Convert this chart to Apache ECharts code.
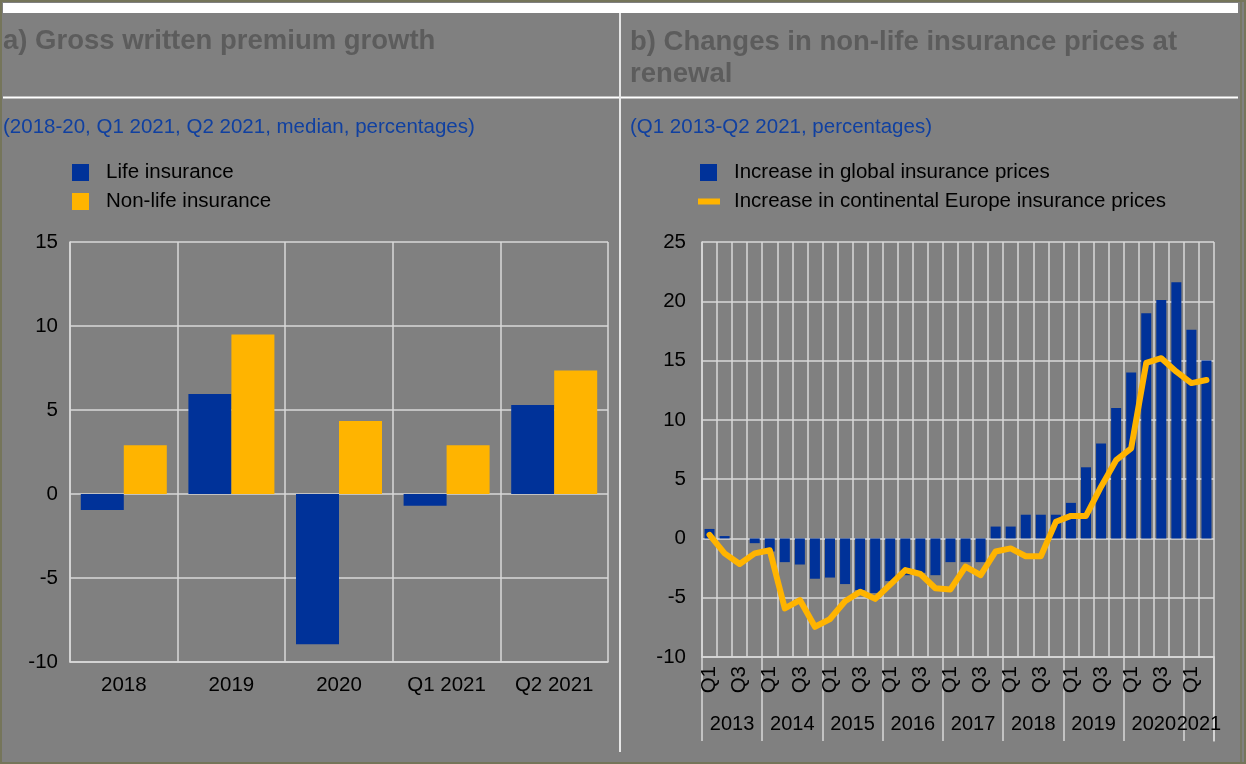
<!DOCTYPE html>
<html>
<head>
<meta charset="utf-8">
<script src="https://cdn.jsdelivr.net/npm/echarts@6/dist/echarts.min.js"></script>
<style>
html,body{margin:0;padding:0;background:#808080;}
#chart{width:1246px;height:764px;}
</style>
</head>
<body>
<div id="chart"></div>
<script>
// ---- Panel a data ----
const categoriesA = ['2018', '2019', '2020', 'Q1 2021', 'Q2 2021'];
const lifeInsurance = [-0.95, 5.95, -8.95, -0.7, 5.3];
const nonLifeInsurance = [2.9, 9.5, 4.35, 2.9, 7.35];
const yTicksA = { min: -10, max: 15, interval: 5 };

// ---- Panel b data ----
const years = ['2013', '2014', '2015', '2016', '2017', '2018', '2019', '2020', '2021'];
const quartersPerYear = [4, 4, 4, 4, 4, 4, 4, 4, 2];
const quarterNames = ['Q1', 'Q2', 'Q3', 'Q4'];
const globalPrices = [0.8, 0.2, 0, -0.4, -1.1, -2.0, -2.2, -3.4, -3.3, -3.85, -4.35, -4.6,
  -3.6, -3.1, -2.9, -3.1, -2.0, -2.0, -2.0, 1.0, 1.0, 2.0, 2.0, 2.0,
  3.0, 6.0, 8.0, 11.0, 14.0, 19.0, 20.1, 21.6, 17.6, 15.0];
const europePrices = [0.3, -1.26, -2.16, -1.26, -1.0, -5.9, -5.2, -7.45, -6.8, -5.3, -4.5, -5.1,
  -3.9, -2.67, -3.0, -4.2, -4.3, -2.38, -3.1, -1.1, -0.84, -1.5, -1.5, 1.4,
  1.9, 1.9, 4.36, 6.6, 7.6, 14.8, 15.2, 14.06, 13.1, 13.36];
const yTicksB = { min: -10, max: 25, interval: 5 };

// Build quarter categories, year starts and year-label points (quarter boundaries)
const quarterCats = [];
years.forEach((y, i) => { for (let q = 0; q < quartersPerYear[i]; q++) quarterCats.push(quarterNames[q] + ' ' + y); });
const boundaryLabels = new Array(quarterCats.length + 1).fill('');
const yearStarts = new Set();
let pos = 0;
years.forEach((y, i) => {
  yearStarts.add(pos);
  boundaryLabels[Math.floor(pos + quartersPerYear[i] / 2)] = y;
  pos += quartersPerYear[i];
});

const FONT = '"Liberation Sans", Arial, sans-serif';
const BLUE = '#003299', YELLOW = '#FFB400', GRID = '#d9d9d9';

const chart = echarts.init(document.getElementById('chart'), null, { renderer: 'canvas' });
const axisLabelStyle = { color: '#000', fontSize: 20.5, fontFamily: FONT };
const legendText = { color: '#000', fontSize: 20.5, fontFamily: FONT, padding: [0, 0, 0, 12] };

chart.setOption({
  backgroundColor: '#808080',
  animation: false,
  title: [
    { text: 'a) Gross written premium growth', left: 3, top: 27, padding: 0,
      textStyle: { fontSize: 27.5, fontWeight: 'bold', color: '#5c5c5c', fontFamily: FONT } },
    { text: 'b) Changes in non-life insurance prices at\nrenewal', left: 630, top: 26, padding: 0,
      textStyle: { fontSize: 27.5, fontWeight: 'bold', color: '#5c5c5c', fontFamily: FONT, lineHeight: 32 } },
    { text: '(2018-20, Q1 2021, Q2 2021, median, percentages)', left: 3, top: 117, padding: 0,
      textStyle: { fontSize: 20.5, fontWeight: 'normal', color: '#1040a0', fontFamily: FONT } },
    { text: '(Q1 2013-Q2 2021, percentages)', left: 630, top: 117, padding: 0,
      textStyle: { fontSize: 20.5, fontWeight: 'normal', color: '#1040a0', fontFamily: FONT } }
  ],
  legend: [
    { data: ['Life insurance', 'Non-life insurance'], orient: 'vertical', left: 72, top: 162, padding: 0,
      icon: 'rect', itemWidth: 17, itemHeight: 17, itemGap: 8, textStyle: legendText },
    { data: ['Increase in global insurance prices'], orient: 'vertical', left: 700, top: 162, padding: 0,
      icon: 'rect', itemWidth: 17, itemHeight: 17, textStyle: legendText },
    { data: ['Increase in continental Europe insurance prices'], orient: 'vertical', left: 698, top: 191, padding: 0,
      icon: 'rect', itemWidth: 22, itemHeight: 6,
      textStyle: Object.assign({}, legendText, { padding: [0, 0, 0, 9] }) }
  ],
  grid: [
    { left: 70, top: 242, width: 538, height: 420 },
    { left: 702, top: 242, width: 512, height: 415 },
    // strip under panel b carrying the year separators
    { left: 702, top: 657, width: 512, height: 84 }
  ],
  xAxis: [
    { gridIndex: 0, type: 'category', data: categoriesA,
      axisLine: { onZero: false, lineStyle: { color: GRID, width: 1.5 } },
      axisTick: { show: false },
      axisLabel: Object.assign({ margin: 13 }, axisLabelStyle),
      splitLine: { show: true, lineStyle: { color: GRID, width: 1.5 } } },
    { gridIndex: 1, type: 'category', data: quarterCats,
      axisLine: { onZero: false, lineStyle: { color: GRID, width: 1.5 } },
      axisTick: { show: false },
      axisLabel: Object.assign({ margin: 9, rotate: 90, interval: 1,
        formatter: v => v.split(' ')[0] }, axisLabelStyle),
      splitLine: { show: true, interval: 0, lineStyle: { color: GRID, width: 1.5 } } },
    { gridIndex: 1, type: 'category', position: 'bottom', boundaryGap: false, data: boundaryLabels,
      axisLine: { show: false, onZero: false },
      axisTick: { show: false },
      axisLabel: { margin: 57, interval: (i, v) => v !== '', color: '#000', fontSize: 20, fontFamily: FONT },
      splitLine: { show: false } },
    { gridIndex: 2, type: 'category', data: quarterCats,
      axisLine: { show: false }, axisTick: { show: false }, axisLabel: { show: false },
      splitLine: { show: true, interval: (i) => yearStarts.has(i), lineStyle: { color: GRID, width: 1.5 } } }
  ],
  yAxis: [
    { gridIndex: 0, type: 'value', min: yTicksA.min, max: yTicksA.max, interval: yTicksA.interval,
      axisLine: { show: true, lineStyle: { color: GRID, width: 1.5 } },
      axisTick: { show: false },
      axisLabel: Object.assign({ margin: 12 }, axisLabelStyle),
      splitLine: { lineStyle: { color: GRID, width: 1.5 } } },
    { gridIndex: 1, type: 'value', min: yTicksB.min, max: yTicksB.max, interval: yTicksB.interval,
      axisLine: { show: true, lineStyle: { color: GRID, width: 1.5 } },
      axisTick: { show: false },
      axisLabel: Object.assign({ margin: 16 }, axisLabelStyle),
      splitLine: { lineStyle: { color: GRID, width: 1.5 } } },
    // right-hand edge of the year strip (closing separator after 2021)
    { gridIndex: 2, type: 'value', position: 'right', min: 0, max: 1,
      axisLine: { show: true, onZero: false, lineStyle: { color: GRID, width: 1.5 } },
      axisTick: { show: false }, axisLabel: { show: false },
      splitLine: { show: false } }
  ],
  series: [
    { name: 'Life insurance', type: 'bar', xAxisIndex: 0, yAxisIndex: 0, data: lifeInsurance,
      itemStyle: { color: BLUE }, barWidth: 43, barGap: '0%' },
    { name: 'Non-life insurance', type: 'bar', xAxisIndex: 0, yAxisIndex: 0, data: nonLifeInsurance,
      itemStyle: { color: YELLOW }, barWidth: 43, barGap: '0%' },
    { name: 'Increase in global insurance prices', type: 'bar', xAxisIndex: 1, yAxisIndex: 1,
      data: globalPrices, itemStyle: { color: BLUE }, barWidth: 10 },
    { name: 'Increase in continental Europe insurance prices', type: 'line', xAxisIndex: 1, yAxisIndex: 1,
      data: europePrices, symbol: 'none', z: 5,
      lineStyle: { color: YELLOW, width: 6, join: 'round', cap: 'round' }, itemStyle: { color: YELLOW } }
  ],
  graphic: [
    { type: 'rect', shape: { x: 3, y: 3, width: 1235, height: 10 }, style: { fill: '#ffffff' }, z: 1 },
    { type: 'line', shape: { x1: 3, y1: 97.5, x2: 1238, y2: 97.5 }, style: { stroke: '#ffffff', lineWidth: 2 } },
    { type: 'line', shape: { x1: 620, y1: 13, x2: 620, y2: 752 }, style: { stroke: '#e6e6e6', lineWidth: 2 } },
    { type: 'line', shape: { x1: 1241, y1: 2, x2: 1241, y2: 762 }, style: { stroke: '#75755a', lineWidth: 1.5 } },
    { type: 'rect', shape: { x: 1, y: 1, width: 1244, height: 762 },
      style: { fill: null, stroke: '#75755a', lineWidth: 2 } }
  ]
});
</script>
</body>
</html>
